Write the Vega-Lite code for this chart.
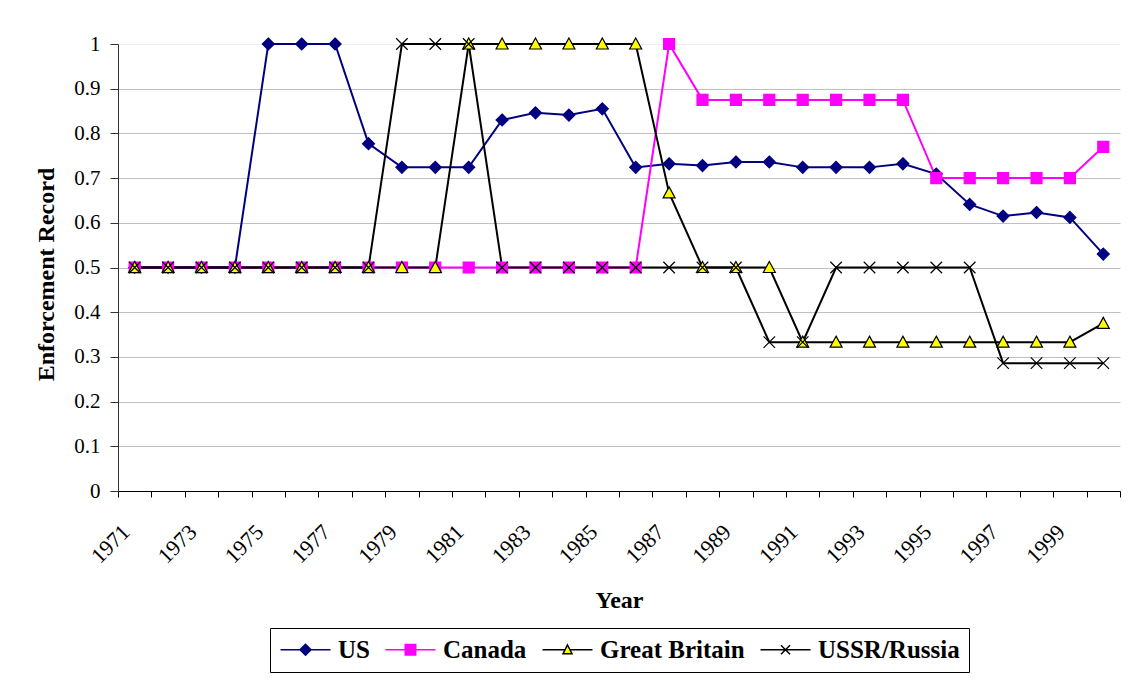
{
  "$schema": "https://vega.github.io/schema/vega-lite/v6.json",
  "width": 1002,
  "height": 447,
  "autosize": {"type": "none"},
  "padding": {"left": 118, "top": 44, "right": 10, "bottom": 188},
  "background": "white",
  "config": {
    "font": "Liberation Serif",
    "view": {"stroke": null},
    "legend": {
      "title": null,
      "orient": "none",
      "legendX": 152,
      "legendY": 584,
      "direction": "horizontal",
      "strokeColor": "black",
      "padding": 9,
      "labelFont": "Liberation Serif",
      "labelFontSize": 25,
      "labelFontWeight": "bold",
      "labelColor": "black",
      "symbolStrokeWidth": 1.5,
      "symbolSize": 100,
      "symbolOpacity": 1,
      "symbolOffset": 14,
      "labelOffset": 20,
      "columnPadding": 12
    }
  },
  "data": {
    "values": [
      {"year": 1971, "country": "US", "value": 0.5},
      {"year": 1972, "country": "US", "value": 0.5},
      {"year": 1973, "country": "US", "value": 0.5},
      {"year": 1974, "country": "US", "value": 0.5},
      {"year": 1975, "country": "US", "value": 1},
      {"year": 1976, "country": "US", "value": 1},
      {"year": 1977, "country": "US", "value": 1},
      {"year": 1978, "country": "US", "value": 0.777},
      {"year": 1979, "country": "US", "value": 0.724},
      {"year": 1980, "country": "US", "value": 0.724},
      {"year": 1981, "country": "US", "value": 0.724},
      {"year": 1982, "country": "US", "value": 0.83},
      {"year": 1983, "country": "US", "value": 0.846},
      {"year": 1984, "country": "US", "value": 0.841},
      {"year": 1985, "country": "US", "value": 0.855},
      {"year": 1986, "country": "US", "value": 0.724},
      {"year": 1987, "country": "US", "value": 0.732},
      {"year": 1988, "country": "US", "value": 0.728},
      {"year": 1989, "country": "US", "value": 0.736},
      {"year": 1990, "country": "US", "value": 0.736},
      {"year": 1991, "country": "US", "value": 0.724},
      {"year": 1992, "country": "US", "value": 0.724},
      {"year": 1993, "country": "US", "value": 0.724},
      {"year": 1994, "country": "US", "value": 0.732},
      {"year": 1995, "country": "US", "value": 0.709},
      {"year": 1996, "country": "US", "value": 0.641},
      {"year": 1997, "country": "US", "value": 0.615},
      {"year": 1998, "country": "US", "value": 0.623},
      {"year": 1999, "country": "US", "value": 0.612},
      {"year": 2000, "country": "US", "value": 0.53},
      {"year": 1971, "country": "Canada", "value": 0.5},
      {"year": 1972, "country": "Canada", "value": 0.5},
      {"year": 1973, "country": "Canada", "value": 0.5},
      {"year": 1974, "country": "Canada", "value": 0.5},
      {"year": 1975, "country": "Canada", "value": 0.5},
      {"year": 1976, "country": "Canada", "value": 0.5},
      {"year": 1977, "country": "Canada", "value": 0.5},
      {"year": 1978, "country": "Canada", "value": 0.5},
      {"year": 1979, "country": "Canada", "value": 0.5},
      {"year": 1980, "country": "Canada", "value": 0.5},
      {"year": 1981, "country": "Canada", "value": 0.5},
      {"year": 1982, "country": "Canada", "value": 0.5},
      {"year": 1983, "country": "Canada", "value": 0.5},
      {"year": 1984, "country": "Canada", "value": 0.5},
      {"year": 1985, "country": "Canada", "value": 0.5},
      {"year": 1986, "country": "Canada", "value": 0.5},
      {"year": 1987, "country": "Canada", "value": 1},
      {"year": 1988, "country": "Canada", "value": 0.875},
      {"year": 1989, "country": "Canada", "value": 0.875},
      {"year": 1990, "country": "Canada", "value": 0.875},
      {"year": 1991, "country": "Canada", "value": 0.875},
      {"year": 1992, "country": "Canada", "value": 0.875},
      {"year": 1993, "country": "Canada", "value": 0.875},
      {"year": 1994, "country": "Canada", "value": 0.875},
      {"year": 1995, "country": "Canada", "value": 0.7},
      {"year": 1996, "country": "Canada", "value": 0.7},
      {"year": 1997, "country": "Canada", "value": 0.7},
      {"year": 1998, "country": "Canada", "value": 0.7},
      {"year": 1999, "country": "Canada", "value": 0.7},
      {"year": 2000, "country": "Canada", "value": 0.77},
      {"year": 1971, "country": "Great Britain", "value": 0.5},
      {"year": 1972, "country": "Great Britain", "value": 0.5},
      {"year": 1973, "country": "Great Britain", "value": 0.5},
      {"year": 1974, "country": "Great Britain", "value": 0.5},
      {"year": 1975, "country": "Great Britain", "value": 0.5},
      {"year": 1976, "country": "Great Britain", "value": 0.5},
      {"year": 1977, "country": "Great Britain", "value": 0.5},
      {"year": 1978, "country": "Great Britain", "value": 0.5},
      {"year": 1979, "country": "Great Britain", "value": 0.5},
      {"year": 1980, "country": "Great Britain", "value": 0.5},
      {"year": 1981, "country": "Great Britain", "value": 1},
      {"year": 1982, "country": "Great Britain", "value": 1},
      {"year": 1983, "country": "Great Britain", "value": 1},
      {"year": 1984, "country": "Great Britain", "value": 1},
      {"year": 1985, "country": "Great Britain", "value": 1},
      {"year": 1986, "country": "Great Britain", "value": 1},
      {"year": 1987, "country": "Great Britain", "value": 0.667},
      {"year": 1988, "country": "Great Britain", "value": 0.5},
      {"year": 1989, "country": "Great Britain", "value": 0.5},
      {"year": 1990, "country": "Great Britain", "value": 0.5},
      {"year": 1991, "country": "Great Britain", "value": 0.333},
      {"year": 1992, "country": "Great Britain", "value": 0.333},
      {"year": 1993, "country": "Great Britain", "value": 0.333},
      {"year": 1994, "country": "Great Britain", "value": 0.333},
      {"year": 1995, "country": "Great Britain", "value": 0.333},
      {"year": 1996, "country": "Great Britain", "value": 0.333},
      {"year": 1997, "country": "Great Britain", "value": 0.333},
      {"year": 1998, "country": "Great Britain", "value": 0.333},
      {"year": 1999, "country": "Great Britain", "value": 0.333},
      {"year": 2000, "country": "Great Britain", "value": 0.375},
      {"year": 1971, "country": "USSR/Russia", "value": 0.5},
      {"year": 1972, "country": "USSR/Russia", "value": 0.5},
      {"year": 1973, "country": "USSR/Russia", "value": 0.5},
      {"year": 1974, "country": "USSR/Russia", "value": 0.5},
      {"year": 1975, "country": "USSR/Russia", "value": 0.5},
      {"year": 1976, "country": "USSR/Russia", "value": 0.5},
      {"year": 1977, "country": "USSR/Russia", "value": 0.5},
      {"year": 1978, "country": "USSR/Russia", "value": 0.5},
      {"year": 1979, "country": "USSR/Russia", "value": 1},
      {"year": 1980, "country": "USSR/Russia", "value": 1},
      {"year": 1981, "country": "USSR/Russia", "value": 1},
      {"year": 1982, "country": "USSR/Russia", "value": 0.5},
      {"year": 1983, "country": "USSR/Russia", "value": 0.5},
      {"year": 1984, "country": "USSR/Russia", "value": 0.5},
      {"year": 1985, "country": "USSR/Russia", "value": 0.5},
      {"year": 1986, "country": "USSR/Russia", "value": 0.5},
      {"year": 1987, "country": "USSR/Russia", "value": 0.5},
      {"year": 1988, "country": "USSR/Russia", "value": 0.5},
      {"year": 1989, "country": "USSR/Russia", "value": 0.5},
      {"year": 1990, "country": "USSR/Russia", "value": 0.333},
      {"year": 1991, "country": "USSR/Russia", "value": 0.333},
      {"year": 1992, "country": "USSR/Russia", "value": 0.5},
      {"year": 1993, "country": "USSR/Russia", "value": 0.5},
      {"year": 1994, "country": "USSR/Russia", "value": 0.5},
      {"year": 1995, "country": "USSR/Russia", "value": 0.5},
      {"year": 1996, "country": "USSR/Russia", "value": 0.5},
      {"year": 1997, "country": "USSR/Russia", "value": 0.286},
      {"year": 1998, "country": "USSR/Russia", "value": 0.286},
      {"year": 1999, "country": "USSR/Russia", "value": 0.286},
      {"year": 2000, "country": "USSR/Russia", "value": 0.286}
    ]
  },
  "encoding": {
    "x": {
      "field": "year",
      "type": "ordinal",
      "bandPosition": 0.5,
      "scale": {"type": "band", "paddingInner": 0, "paddingOuter": 0},
      "axis": {
        "title": "Year",
        "titleFont": "Liberation Serif",
        "titleFontSize": 24,
        "titleFontWeight": "bold",
        "titleColor": "black",
        "titleX": 501,
        "titleY": 116,
        "titleAlign": "center",
        "titleBaseline": "alphabetic",
        "tickBand": "extent",
        "tickSize": 6,
        "tickColor": "black",
        "domainColor": "black",
        "labelFont": "Liberation Serif",
        "labelFontSize": 22,
        "labelColor": "black",
        "labelAngle": -45,
        "labelAlign": "right",
        "labelBaseline": "middle",
        "labelPadding": 31,
        "labelOffset": -9,
        "labelOverlap": false,
        "labelFlush": false,
        "labelExpr": "datum.value % 2 == 1 ? datum.label : ''",
        "grid": false
      }
    },
    "y": {
      "field": "value",
      "type": "quantitative",
      "scale": {"domain": [0, 1], "nice": false, "zero": true},
      "axis": {
        "title": "Enforcement Record",
        "titleFont": "Liberation Serif",
        "titleFontSize": 24,
        "titleFontWeight": "bold",
        "titleColor": "black",
        "titleAngle": -90,
        "titleX": -65,
        "titleY": 230,
        "titleAlign": "center",
        "titleBaseline": "alphabetic",
        "values": [0, 0.1, 0.2, 0.3, 0.4, 0.5, 0.6, 0.7, 0.8, 0.9, 1],
        "format": ".1~f",
        "labelFont": "Liberation Serif",
        "labelFontSize": 21,
        "labelColor": "black",
        "labelPadding": 10,
        "tickSize": 8,
        "tickColor": "#333333",
        "domainColor": "#333333",
        "grid": true,
        "gridColor": {"condition": {"test": "datum.value === 1", "value": "#eeeeee"}, "value": "#c0c0c0"}
      }
    }
  },
  "resolve": {
    "scale": {"shape": "independent", "fill": "independent", "stroke": "independent"},
    "legend": {"shape": "independent", "fill": "independent", "stroke": "independent"}
  },
  "layer": [
    {
      "mark": {"type": "line", "strokeWidth": 2},
      "encoding": {
        "stroke": {
          "field": "country",
          "type": "nominal",
          "scale": {"domain": ["US", "Canada", "Great Britain", "USSR/Russia"], "range": ["#000080", "#ff00ff", "#000000", "#000000"]},
          "legend": null
        }
      }
    },
    {
      "mark": {"type": "point", "size": 100, "opacity": 1, "strokeWidth": 1.2},
      "encoding": {
        "stroke": {
          "field": "country",
          "type": "nominal",
          "scale": {"domain": ["US", "Canada", "Great Britain", "USSR/Russia"], "range": ["#000080", "#ff00ff", "#000000", "#000000"]},
          "legend": null
        },
        "fill": {
          "field": "country",
          "type": "nominal",
          "scale": {"domain": ["US", "Canada", "Great Britain", "USSR/Russia"], "range": ["#000080", "#ff00ff", "#ffff00", "transparent"]},
          "legend": null
        },
        "shape": {
          "field": "country",
          "type": "nominal",
          "scale": {"domain": ["US", "Canada", "Great Britain", "USSR/Russia"], "range": ["M0,-1.2L1.2,0L0,1.2L-1.2,0Z", "M-1.1,-1.1H1.1V1.1H-1.1Z", "M0,-1.2L1.2,1L-1.2,1Z", "M-1.15,-1.15L1.15,1.15M-1.15,1.15L1.15,-1.15"]},
          "legend": null
        }
      }
    },
    {
      "mark": {"type": "point", "size": 100, "opacity": 0, "strokeWidth": 1.5},
      "encoding": {
        "stroke": {
          "field": "country",
          "type": "nominal",
          "scale": {"domain": ["US", "Canada", "Great Britain", "USSR/Russia"], "range": ["#000080", "#ff00ff", "#000000", "#000000"]}
        },
        "fill": {
          "field": "country",
          "type": "nominal",
          "scale": {"domain": ["US", "Canada", "Great Britain", "USSR/Russia"], "range": ["#000080", "#ff00ff", "#ffff00", "transparent"]}
        },
        "shape": {
          "field": "country",
          "type": "nominal",
          "scale": {"domain": ["US", "Canada", "Great Britain", "USSR/Russia"], "range": ["M-5,0H-1.15M1.15,0H5M0,-1.1L1.1,0L0,1.1L-1.1,0Z", "M-5,0H-1.05M1.05,0H5M-1.05,-1.05H1.05V1.05H-1.05Z", "M-5,0H-0.49M0.49,0H5M0,-0.95L0.9,0.8L-0.9,0.8Z", "M-5,0H5M-0.9,-0.9L0.9,0.9M-0.9,0.9L0.9,-0.9"]}
        }
      }
    }
  ]
}
